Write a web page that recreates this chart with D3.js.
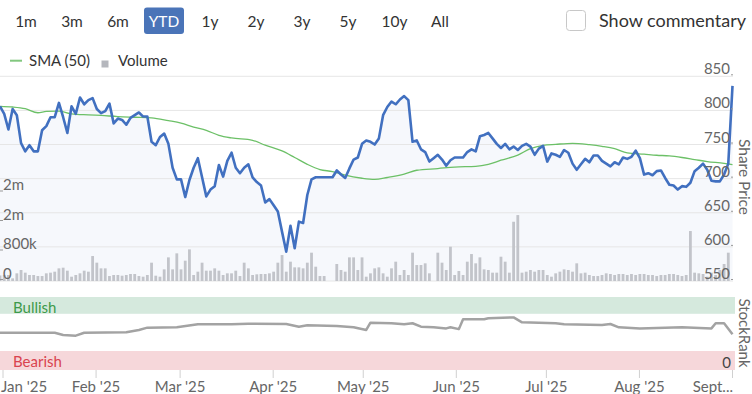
<!DOCTYPE html>
<html><head><meta charset="utf-8">
<script src="https://cdn.jsdelivr.net/npm/d3@7"></script>
<style>
body{margin:0;background:#fff;}
svg{display:block;font-family:Lato,"Open Sans",sans-serif;}
</style></head><body>
<svg id="c" width="752" height="394"></svg>
<script>
// ---------------- data ----------------
const rangeButtons = ["1m","3m","6m","YTD","1y","2y","3y","5y","10y","All"];
const selectedRange = "YTD";
const firstDay = "2024-12-31", lastDay = "2025-09-01";   // daily (weekday) series
const closePrices = [
806,795,772,802,793,752,740,749,740,740,771,777,790,790,811,790,767,806,795,819,
809,815,818,802,796,799,810,781,788,786,779,789,793,797,791,791,754,749,761,766,
751,716,699,699,673,698,716,730,702,674,684,689,720,703,726,738,716,708,716,721,
702,695,690,665,670,661,652,622,593,631,598,637,635,676,699,702,702,702,702,702,
712,706,701,715,728,731,751,756,754,750,759,793,805,813,809,816,821,815,754,756,
743,739,725,730,735,728,719,727,731,731,731,739,743,740,762,764,767,759,751,745,
751,743,747,742,748,751,747,735,744,748,725,737,735,732,742,738,722,713,721,729,
724,734,734,726,722,718,724,721,731,729,732,741,730,706,708,705,711,712,701,691,
690,684,689,688,694,711,716,722,713,697,696,696,706,722,836];
const volumesK = [
150,163,163,72,208,298,226,163,163,135,135,208,226,253,343,361,280,117,163,208,
280,253,677,497,343,343,135,163,163,144,163,190,190,135,117,163,497,144,117,316,
641,316,750,316,551,858,163,253,497,280,280,343,280,163,208,208,280,135,497,343,
163,181,190,190,208,253,497,704,253,524,370,370,343,497,768,388,135,135,0,0,
461,298,253,641,641,298,641,117,208,343,370,208,117,343,524,163,298,163,768,433,
433,479,208,0,768,497,298,930,163,271,163,524,731,479,641,316,298,226,226,659,
524,226,1607,1788,226,253,298,253,298,298,163,117,208,253,316,298,253,479,208,226,
163,135,135,163,208,190,163,190,190,163,190,163,190,190,163,163,135,163,163,190,
190,163,135,163,1355,226,208,190,117,226,163,298,461,768,0];
const smaDates = ["2024-12-31","2025-01-03","2025-01-08","2025-01-13","2025-01-15","2025-01-20","2025-01-23","2025-01-29",
"2025-02-03","2025-02-07","2025-02-13","2025-02-19","2025-02-25","2025-02-28","2025-03-05","2025-03-10","2025-03-13",
"2025-03-18","2025-03-25","2025-03-28","2025-04-03","2025-04-08","2025-04-11","2025-04-16","2025-04-21","2025-04-24",
"2025-04-30","2025-05-05","2025-05-08","2025-05-14","2025-05-19","2025-05-26","2025-05-30","2025-06-06","2025-06-11",
"2025-06-16","2025-06-20","2025-06-25","2025-06-30","2025-07-03","2025-07-09","2025-07-15","2025-07-18","2025-07-23",
"2025-07-28","2025-08-01","2025-08-06","2025-08-11","2025-08-14","2025-08-19","2025-08-22","2025-08-28","2025-09-01"];
const smaValues = [806,805,802.5,796.6,798.5,799,795,793.5,792.6,791,790,789,785,781.5,775.6,770.8,763.5,
759.6,756.2,749,740.6,731,721,713.3,710.4,705,700.6,699,701.7,706.5,712.3,714.8,717,718,721,
727,734.6,744,748.8,750.3,751.8,749.8,747.4,744,737.7,735.8,734.3,733.3,731,728,725,722.5,720.5];
const rankDates = ["2024-12-31","2025-01-17","2025-01-21","2025-01-24","2025-01-28","2025-02-11","2025-02-14","2025-02-18",
"2025-02-27","2025-03-06","2025-03-18","2025-03-24","2025-04-04","2025-04-09","2025-04-11","2025-04-22","2025-04-28",
"2025-05-01","2025-05-02","2025-05-09","2025-05-14","2025-05-16","2025-05-20","2025-05-23","2025-05-28","2025-05-29",
"2025-06-02","2025-06-03","2025-06-10","2025-06-11","2025-06-19","2025-06-23","2025-07-03","2025-07-07","2025-07-18",
"2025-07-22","2025-07-24","2025-07-31","2025-08-14","2025-08-25","2025-08-26","2025-08-28","2025-09-01"];
const rankValues = [51,51,48,47,51,51.6,54.8,58,58.5,62.6,62.6,63.4,63,59.3,61.2,60.3,58.5,54.8,64.8,64,62.6,64,
59.3,58.5,57,58.5,56,69.5,69.5,71,72,65.3,64,62.6,61.6,63,58.5,57,58.5,57,64,64,49];
const priceTicks = [550,600,650,700,750,800,850];
const volumeTicks = [0,800000,1600000,2400000];
const volumeTickLabels = ["0","800k","2m","2m"];
const rankTicks = [0];
const bullishBand = [77,100], bearishBand = [0,26];
const monthTicks = ["2025-01-01","2025-02-01","2025-03-01","2025-04-01","2025-05-01","2025-06-01","2025-07-01","2025-08-01","2025-09-01"];
const monthLabels = ["Jan '25","Feb '25","Mar '25","Apr '25","May '25","Jun '25","Jul '25","Aug '25","Sept..."];

// ---------------- setup ----------------
const parse = d3.utcParse("%Y-%m-%d"), fmt = d3.utcFormat("%Y-%m-%d");
const dates = d3.utcDays(parse(firstDay), d3.utcDay.offset(parse(lastDay),1))
  .filter(d => d.getUTCDay() !== 0 && d.getUTCDay() !== 6).map(fmt);
const svg = d3.select("#c");
const AX = "#666666";
const plotL = 0, plotR = 735;

// marks: evenly spaced sessions; axis: calendar time over the same span
const x = d3.scalePoint().domain(dates).range([0, 732.5]);
const xt = d3.scaleUtc().domain([parse(firstDay), parse(lastDay)]).range([0, 732.5]);
const y = d3.scaleLinear().domain([550,850]).range([281,76.3]);
const yv = d3.scaleLinear().domain([0,2400000]).range([281,192.5]);
const yr = d3.scaleLinear().domain([0,100]).range([370,297]);

// ---------------- top controls ----------------
const btnX = [26,72,118,164,210,256,302,348,394.5,440];
rangeButtons.forEach((b,i) => {
  const g = svg.append("g");
  if (b === selectedRange) {
    g.append("rect").attr("x", btnX[i]-20).attr("y", 7.5).attr("width", 40).attr("height", 26.5)
      .attr("rx", 3).attr("fill", "#4a74b8");
  }
  g.append("text").attr("x", btnX[i]).attr("y", 26.5).attr("text-anchor","middle")
    .attr("font-size", 15.5).attr("fill", b === selectedRange ? "#fff" : "#333").text(b);
});
svg.append("rect").attr("x",566.5).attr("y",10.5).attr("width",19).attr("height",20).attr("rx",3)
  .attr("fill","#fff").attr("stroke","#c8c8c8");
svg.append("text").attr("x",599).attr("y",26.5).attr("font-size",18).attr("fill","#333").text("Show commentary");

// legend
svg.append("line").attr("x1",10).attr("x2",22).attr("y1",60.7).attr("y2",60.7).attr("stroke","#82c77f").attr("stroke-width",2);
svg.append("text").attr("x",29).attr("y",66).attr("font-size",15).attr("fill","#333").text("SMA (50)");
svg.append("rect").attr("x",101.5).attr("y",60.5).attr("width",7).attr("height",7).attr("fill","#b5b7bd");
svg.append("text").attr("x",118).attr("y",66).attr("font-size",15).attr("fill","#333").text("Volume");

// ---------------- price panel ----------------
svg.append("clipPath").attr("id","pc").append("rect")
  .attr("x",plotL).attr("y",60).attr("width",plotR-plotL).attr("height",230);

// area under price
svg.append("path").attr("clip-path","url(#pc)")
  .attr("d", d3.area().x((d,i)=>x(dates[i])).y0(281).y1(d=>y(d))(closePrices))
  .attr("fill","#f6f8fc");

// gridlines
priceTicks.forEach(t => {
  svg.append("line").attr("x1",plotL).attr("x2",733).attr("y1",y(t)).attr("y2",y(t))
    .attr("stroke","#e6e6e6").attr("stroke-width",1);
});

// volume bars
svg.append("g").attr("clip-path","url(#pc)").selectAll("rect").data(volumesK).join("rect")
  .attr("x",(d,i)=>x(dates[i])-1.4).attr("width",2.8)
  .attr("y",d=>yv(d*1000)).attr("height",d=>281-yv(d*1000))
  .attr("fill","#c2c4ca");

// SMA
svg.append("path").attr("clip-path","url(#pc)")
  .attr("d", d3.line().curve(d3.curveMonotoneX).x((d,i)=>x(smaDates[i])).y(d=>y(d))(smaValues))
  .attr("fill","none").attr("stroke","#6cc067").attr("stroke-width",1.3);

// price line
svg.append("path").attr("clip-path","url(#pc)")
  .attr("d", d3.line().x((d,i)=>x(dates[i])).y(d=>y(d))(closePrices))
  .attr("fill","none").attr("stroke","#4170c0").attr("stroke-width",2.6).attr("stroke-linejoin","round");

// right price axis labels
priceTicks.forEach(t => {
  svg.append("text").attr("x",730).attr("y",y(t)-2).attr("text-anchor","end")
    .attr("font-size",15).attr("fill",AX).text(t);
  svg.append("line").attr("x1",731).attr("x2",733).attr("y1",y(t)-1.5).attr("y2",y(t)-1.5).attr("stroke","#999");
});
svg.append("text").attr("transform","translate(738.5,177) rotate(90)").attr("text-anchor","middle")
  .attr("font-size",15.5).attr("fill",AX).text("Share Price");

// left volume axis labels
volumeTicks.forEach((t,i) => {
  svg.append("text").attr("x",3).attr("y",yv(t)-2.5).attr("font-size",15).attr("fill",AX).text(volumeTickLabels[i]);
  svg.append("line").attr("x1",0).attr("x2",3).attr("y1",yv(t)-1.5).attr("y2",yv(t)-1.5).attr("stroke","#999");
});

// ---------------- StockRank panel ----------------
svg.append("rect").attr("x",plotL).attr("width",plotR-plotL)
  .attr("y",yr(bullishBand[1])).attr("height",yr(bullishBand[0])-yr(bullishBand[1])).attr("fill","#d5e9dd");
svg.append("rect").attr("x",plotL).attr("width",plotR-plotL)
  .attr("y",yr(bearishBand[1])).attr("height",yr(bearishBand[0])-yr(bearishBand[1])).attr("fill","#f6d7da");
svg.append("text").attr("x",13).attr("y",312.5).attr("font-size",15).attr("fill","#3d9a4a").text("Bullish");
svg.append("text").attr("x",13).attr("y",367).attr("font-size",15).attr("fill","#d9434f").text("Bearish");
svg.append("path")
  .attr("d", d3.line().x((d,i)=>x(rankDates[i])).y(d=>yr(d))(rankValues))
  .attr("fill","none").attr("stroke","#a3a3a3").attr("stroke-width",2.5).attr("stroke-linejoin","round");
rankTicks.forEach(t => {
  svg.append("text").attr("x",731).attr("y",yr(t)-2).attr("text-anchor","end")
    .attr("font-size",15).attr("fill","#444").text(t);
});
svg.append("text").attr("transform","translate(738.5,333) rotate(90)").attr("text-anchor","middle")
  .attr("font-size",15).attr("fill",AX).text("StockRank");

// ---------------- x axis ----------------
monthTicks.forEach((m,i) => {
  const px = xt(parse(m));
  svg.append("line").attr("x1",px).attr("x2",px).attr("y1",370).attr("y2",378).attr("stroke","#d0d0d0");
  let anchor = "middle", tx = px;
  if (i === 0) { anchor = "start"; tx = 1; }
  if (i === monthTicks.length-1) { anchor = "end"; tx = 733; }
  svg.append("text").attr("x",tx).attr("y",392).attr("text-anchor",anchor)
    .attr("font-size",15).attr("fill",AX).text(monthLabels[i]);
});
</script>
</body></html>
